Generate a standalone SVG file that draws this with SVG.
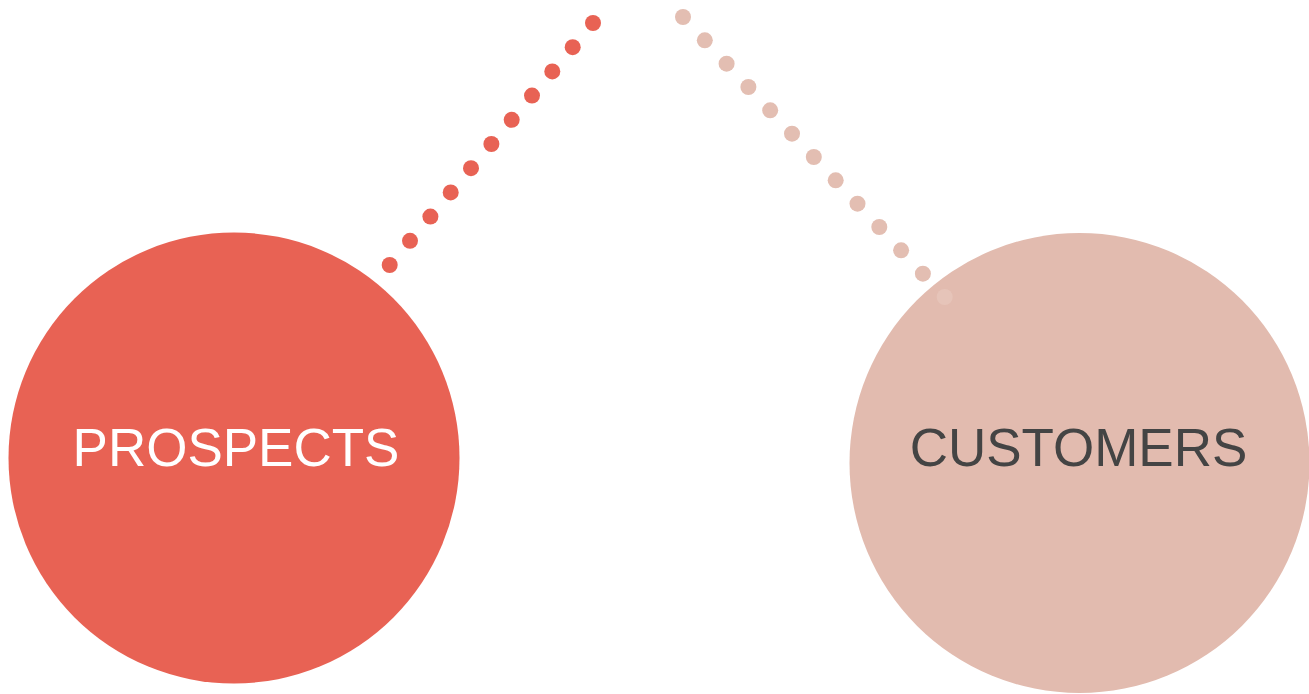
<svg xmlns="http://www.w3.org/2000/svg" width="1309" height="694" viewBox="0 0 1309 694">
<style>
.lbl{font-family:"Liberation Sans",Arial,Helvetica,sans-serif;font-size:53px;text-anchor:middle}
.dl{fill:#E86254}
.dr{fill:#E3BEB2}
</style>
<rect width="1309" height="694" fill="#FFFFFF"/>
<g id="prospects">
<circle cx="234" cy="458" r="225.5" fill="#E86254"/>
<text class="lbl" x="236" y="466" fill="#FFFFFF">PROSPECTS</text>
</g>
<g id="customers">
<circle cx="1079.5" cy="463" r="230" fill="#E2BBAF"/>
<text class="lbl" x="1078.5" y="466" fill="#444444">CUSTOMERS</text>
</g>
<g id="connectors">
<g id="conn-left">
<circle class="dl" cx="389.7" cy="265" r="8"/>
<circle class="dl" cx="410" cy="240.8" r="8"/>
<circle class="dl" cx="430.4" cy="216.6" r="8"/>
<circle class="dl" cx="450.7" cy="192.4" r="8"/>
<circle class="dl" cx="471" cy="168.2" r="8"/>
<circle class="dl" cx="491.4" cy="144" r="8"/>
<circle class="dl" cx="511.7" cy="119.8" r="8"/>
<circle class="dl" cx="532" cy="95.6" r="8"/>
<circle class="dl" cx="552.3" cy="71.4" r="8"/>
<circle class="dl" cx="572.7" cy="47.2" r="8"/>
<circle class="dl" cx="593" cy="23" r="8"/>
</g>
<g id="conn-right">
<circle class="dr" cx="683" cy="17" r="8"/>
<circle class="dr" cx="704.8" cy="40.3" r="8"/>
<circle class="dr" cx="726.6" cy="63.7" r="8"/>
<circle class="dr" cx="748.4" cy="87" r="8"/>
<circle class="dr" cx="770.2" cy="110.3" r="8"/>
<circle class="dr" cx="792" cy="133.7" r="8"/>
<circle class="dr" cx="813.8" cy="157" r="8"/>
<circle class="dr" cx="835.7" cy="180.3" r="8"/>
<circle class="dr" cx="857.5" cy="203.7" r="8"/>
<circle class="dr" cx="879.3" cy="227" r="8"/>
<circle class="dr" cx="901.1" cy="250.3" r="8"/>
<circle class="dr" cx="922.9" cy="273.7" r="8"/>
<circle cx="944.7" cy="297" r="8" fill="#E6C4B9"/>
</g>
</g>
</svg>
